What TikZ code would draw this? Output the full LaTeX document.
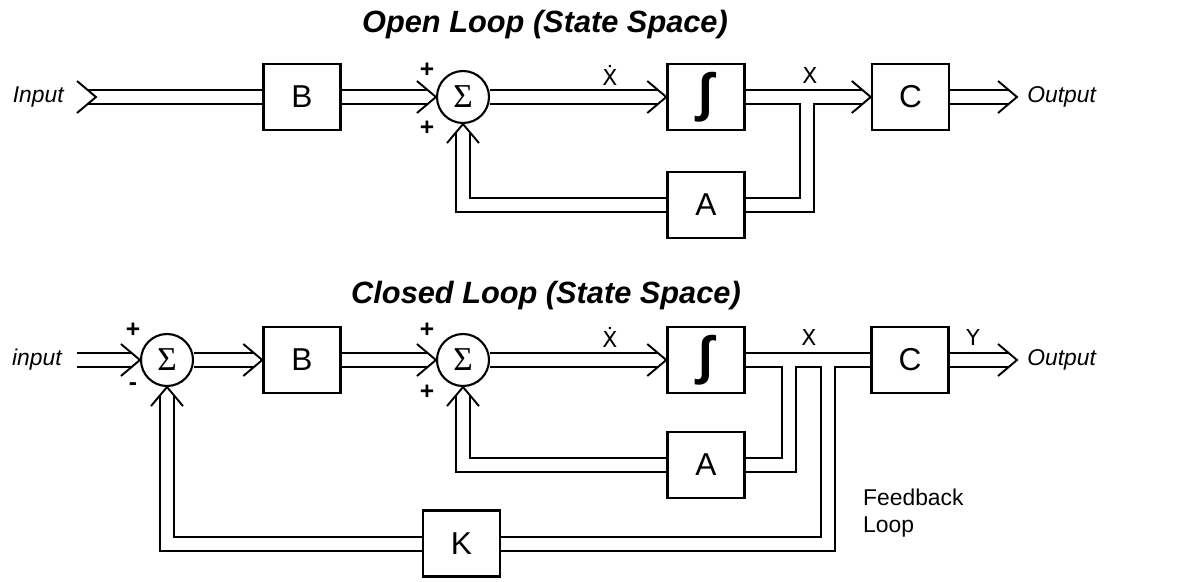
\documentclass[tikz,border=0pt]{standalone}
\usepackage{fontspec}
\setmainfont{Liberation Sans}
\newfontfamily\dvs{DejaVu Sans}
\newfontfamily\lser{Liberation Serif}
\usetikzlibrary{arrows.meta,positioning,calc}
\pgfdeclarelayer{bg}
\pgfsetlayers{bg,main}

\tikzset{
  blk/.style={draw, line width=1.4pt, minimum width=1.54cm, minimum height=1.32cm, inner sep=0pt, font=\fontsize{18}{20}\selectfont},
  intg/.style={blk, font=\bfseries\fontsize{30}{32}\selectfont},
  sumnode/.style={draw, circle, line width=1.2pt, minimum size=1.04cm, inner sep=0pt, font=\lser\fontsize{19}{20}\selectfont},
  pipeout/.style={line width=0.32cm, black},
  pipein/.style={line width=0.24cm, white},
  tipend/.style={shorten >=0.17cm},
  chev/.pic={\draw[line width=1.1pt] (-0.38,0.32) -- (0,0) -- (-0.38,-0.32);},
  ttl/.style={font=\fontsize{17.5}{20}\selectfont\bfseries\itshape},
  lbl/.style={font=\fontsize{13}{15}\selectfont},
  lblit/.style={font=\fontsize{13}{15}\selectfont\itshape},
  xlbl/.style={font=\dvs\fontsize{12.5}{15}\selectfont},
  sgn/.style={font=\fontsize{14}{16}\selectfont\bfseries},
}

\begin{document}
\begin{tikzpicture}
\useasboundingbox (0,0) rectangle (23.64,11.62);
% open loop
\node[ttl] (ttlOpen) at (10.9,11.12) {Open Loop (State Space)};
\node[lblit, anchor=east, inner xsep=0.46cm] (inO) at (1.74,9.68) {Input};
\node[blk] (bO) at (6.04,9.68) {B};
\node[sumnode] (sO) at (9.26,9.68) {Σ};
\node[intg] (iO) at (14.12,9.68) {∫};
\node[blk] (cO) at (18.21,9.68) {C};
\node[blk] (aO) at (14.12,7.52) {A};
\node[lblit, anchor=west, inner xsep=0.2cm] (outO) at (20.34,9.68) {Output};
\coordinate (jO) at (16.14,9.68);
\node[sgn] (pO1) at (8.54,10.22) {+};
\node[sgn] (pO2) at (8.54,9.06) {+};
\node[xlbl] (xdO) at (12.2,10.12) {Ẋ};
\node[xlbl] (xO) at (16.2,10.12) {X};

% closed loop
\node[ttl] (ttlClosed) at (10.92,5.7) {Closed Loop (State Space)};
\node[lblit, anchor=east, inner xsep=0.3cm] (inC) at (1.54,4.42) {input};
\node[sumnode] (s1C) at (3.34,4.42) {Σ};
\node[blk] (bC) at (6.04,4.42) {B};
\node[sumnode] (s2C) at (9.26,4.42) {Σ};
\node[intg] (iC) at (14.12,4.42) {∫};
\node[blk] (cC) at (18.2,4.42) {C};
\node[blk] (aC) at (14.12,2.32) {A};
\node[blk] (kC) at (9.23,0.75) {K};
\node[lblit, anchor=west, inner xsep=0.2cm] (outC) at (20.34,4.42) {Output};
\coordinate (jaC) at (15.78,4.42);
\coordinate (jkC) at (16.56,4.42);
\node[sgn] (p1C) at (2.66,5.02) {+};
\node[sgn] (m1C) at (2.66,3.88) {-};
\node[sgn] (p2C) at (8.54,5.02) {+};
\node[sgn] (p3C) at (8.54,3.78) {+};
\node[xlbl] (xdC) at (12.2,4.88) {Ẋ};
\node[xlbl] (xC) at (16.18,4.88) {X};
\node[xlbl] (yC) at (19.46,4.88) {Y};
\node[lbl, anchor=west, align=left] (fbC) at (17.14,1.36) {Feedback\\Loop};

% double signal lines: black pass, then white pass
\def\pipes#1{
  \draw[#1] (inO.east) -- (bO.west);
  \draw[#1, tipend] (bO.east) -- (sO.west);
  \draw[#1, tipend] (sO.east) -- (iO.west);
  \draw[#1, tipend] (iO.east) -- (cO.west);
  \draw[#1, tipend] (cO.east) -- (outO.west);
  \draw[#1] (jO) |- (aO.east);
  \draw[#1, tipend] (aO.west) -| (sO.south);
  \draw[#1, tipend] (inC.east) -- (s1C.west);
  \draw[#1, tipend] (s1C.east) -- (bC.west);
  \draw[#1, tipend] (bC.east) -- (s2C.west);
  \draw[#1, tipend] (s2C.east) -- (iC.west);
  \draw[#1] (iC.east) -- (cC.west);
  \draw[#1, tipend] (cC.east) -- (outC.west);
  \draw[#1] (jaC) |- (aC.east);
  \draw[#1] (jkC) |- (kC.east);
  \draw[#1, tipend] (aC.west) -| (s2C.south);
  \draw[#1, tipend] (kC.west) -| (s1C.south);
}
\begin{pgfonlayer}{bg}
  \pipes{pipeout}
  \pipes{pipein}
\end{pgfonlayer}

% open arrow heads
\pic at ($(inO.east)+(0.18,0)$) {chev};
\foreach \p/\r in {sO.west/0, sO.south/90, iO.west/0, cO.west/0, outO.west/0,
    s1C.west/0, s1C.south/90, bC.west/0, s2C.west/0, s2C.south/90, iC.west/0, outC.west/0}{
  \pic[rotate=\r] at (\p) {chev};
}
\end{tikzpicture}
\end{document}
